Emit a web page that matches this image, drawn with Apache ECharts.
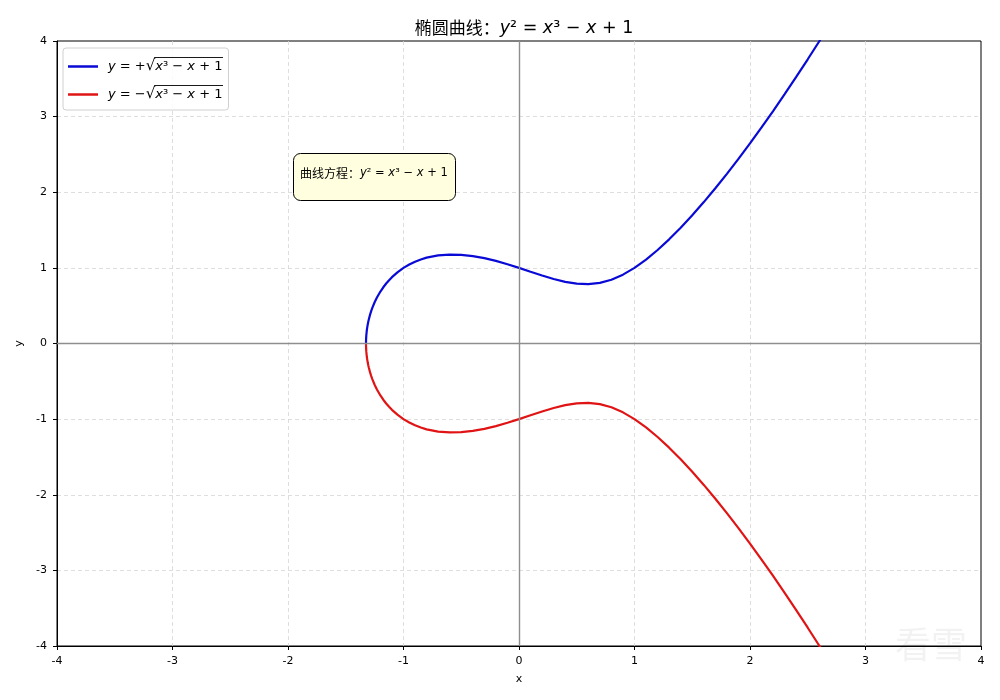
<!DOCTYPE html>
<html>
<head>
<meta charset="utf-8">
<script src="https://cdn.jsdelivr.net/npm/echarts@6/dist/echarts.min.js"></script>
<style>html,body{margin:0;padding:0;background:#fff}#c{width:1000px;height:700px}</style>
</head>
<body>
<div id="c"></div>
<script>
// x samples along the curve
const xVals = [-1.3247,-1.324,-1.322,-1.318,-1.315,-1.31,-1.305,-1.3,-1.29,-1.28,-1.27,-1.25,-1.23,-1.2,-1.175,-1.15,-1.125,-1.1,-1.05,-1.0,-0.95,-0.9,-0.85,-0.8,-0.7,-0.6,-0.5,-0.4,-0.3,-0.2,-0.1,0,0.1,0.2,0.3,0.4,0.5,0.6,0.7,0.8,0.9,1.0,1.1,1.2,1.3,1.4,1.5,1.6,1.7,1.8,1.9,2.0,2.1,2.2,2.3,2.4,2.5,2.6,2.7];
// upper branch values
const yUpper = [0,0.0553,0.1075,0.1687,0.2027,0.2488,0.2873,0.3209,0.3786,0.4276,0.4708,0.5449,0.6076,0.6870,0.7435,0.7932,0.8374,0.8769,0.9447,1.0,1.0453,1.0821,1.1117,1.1349,1.1649,1.1764,1.1726,1.1559,1.1283,1.0918,1.0483,1.0,0.9492,0.8989,0.8526,0.8149,0.7906,0.7849,0.8019,0.8438,0.9105,1.0,1.1095,1.2361,1.3773,1.5310,1.6956,1.8698,2.0526,2.2432,2.4411,2.6458,2.8568,3.0737,3.2965,3.5248,3.7583,3.9970,4.2407];
// lower branch values
const yLower = [0,-0.0553,-0.1075,-0.1687,-0.2027,-0.2488,-0.2873,-0.3209,-0.3786,-0.4276,-0.4708,-0.5449,-0.6076,-0.6870,-0.7435,-0.7932,-0.8374,-0.8769,-0.9447,-1.0,-1.0453,-1.0821,-1.1117,-1.1349,-1.1649,-1.1764,-1.1726,-1.1559,-1.1283,-1.0918,-1.0483,-1.0,-0.9492,-0.8989,-0.8526,-0.8149,-0.7906,-0.7849,-0.8019,-0.8438,-0.9105,-1.0,-1.1095,-1.2361,-1.3773,-1.5310,-1.6956,-1.8698,-2.0526,-2.2432,-2.4411,-2.6458,-2.8568,-3.0737,-3.2965,-3.5248,-3.7583,-3.9970,-4.2407];
const axisMin = -4, axisMax = 4, axisStep = 1;
const seriesNames = ['upper', 'lower'];

const upperData = xVals.map((x, i) => [x, yUpper[i]]);
const lowerData = xVals.map((x, i) => [x, yLower[i]]);

const CN = '"Noto Sans CJK SC", "Noto Sans", sans-serif';
const MATH = '"DejaVu Sans", sans-serif';
const LEG_FS = 13, RAD_FS = 15;

// measure text for legend radical overlines
const mctx = document.createElement('canvas').getContext('2d');
function tw(txt, italic, fs) {
  mctx.font = (italic ? 'italic ' : '') + (fs || LEG_FS) + 'px "DejaVu Sans"';
  return mctx.measureText(txt).width;
}
const legLeft = 63, legTop = 48, legPadTop = 11, legGap = 13;
const legRowCenters = [66.5, 94.5];
const textStart = legLeft + 5 + 30 + 5 + 5;
const radEnd = textStart + tw('y', true) + tw(' = +', false) + tw('√', false, RAD_FS);
const olStart = radEnd - 1.2;
const olEnd = radEnd + tw('x', true) + tw('³ − ', false) + tw('x', true) + tw(' + 1', false) + 0.5;
const overlines = legRowCenters.map(cy => ({
  type: 'line', z: 20, silent: true,
  shape: {x1: olStart, y1: cy - 9, x2: olEnd, y2: cy - 9},
  style: {stroke: '#000', lineWidth: 0.9}
}));

const chart = echarts.init(document.getElementById('c'), null, {renderer: 'canvas'});
const axisCommon = {
  type: 'value', min: axisMin, max: axisMax, interval: axisStep,
  axisLine: {show: true, onZero: false, lineStyle: {color: '#000', width: 1}},
  axisTick: {show: true, inside: false, length: 4, lineStyle: {color: '#000'}},
  axisLabel: {color: '#000', fontSize: 11, fontFamily: '"DejaVu Sans", sans-serif', margin: 10},
  splitLine: {show: true, showMinLine: false, showMaxLine: false, lineStyle: {color: '#d6d6d6', type: [4, 3], width: 0.8}},
  nameTextStyle: {color: '#000', fontSize: 11, fontFamily: '"DejaVu Sans", sans-serif'}
};
chart.setOption({
  animation: false,
  backgroundColor: '#fff',
  title: {
    text: '{cn|椭圆曲线：}{m|y}{n|² = }{m|x}{n|³ − }{m|x}{n| + 1}',
    left: 519, top: 14, textAlign: 'center',
    textStyle: {
      fontWeight: 'normal',
      rich: {
        cn: {fontFamily: CN, fontSize: 17, fontWeight: 'normal', color: '#000'},
        m: {fontFamily: MATH, fontStyle: 'italic', fontWeight: 'normal', fontSize: 17.5, color: '#000'},
        n: {fontFamily: MATH, fontWeight: 'normal', fontSize: 17.5, color: '#000'}
      }
    }
  },
  grid: {left: 57, right: 19, top: 41, bottom: 54, show: true, borderColor: '#000', borderWidth: 1, backgroundColor: 'transparent'},
  xAxis: Object.assign({}, axisCommon, {name: 'x', nameLocation: 'middle', nameGap: 28, axisLabel: Object.assign({}, axisCommon.axisLabel, {margin: 10})}),
  yAxis: Object.assign({}, axisCommon, {name: 'y', nameLocation: 'middle', nameGap: 30, nameRotate: 90}),
  legend: {
    left: legLeft, top: legTop, orient: 'vertical',
    backgroundColor: 'rgba(255,255,255,0.85)', borderColor: '#d0d0d0', borderWidth: 1, borderRadius: 3,
    padding: [legPadTop, 6, 8, 5], itemGap: legGap, itemWidth: 30, itemHeight: 2.5, icon: 'rect',
    data: seriesNames,
    formatter: function (name) {
      const sign = name === 'upper' ? '+' : '−';
      return '{sp|}{m|y}{n| = ' + sign + '}{r|√}{m|x}{n|³ − }{m|x}{n| + 1}';
    },
    textStyle: {
      rich: {
        sp: {width: 5},
        m: {fontFamily: MATH, fontStyle: 'italic', fontSize: LEG_FS, color: '#000'},
        n: {fontFamily: MATH, fontSize: LEG_FS, color: '#000'},
        r: {fontFamily: MATH, fontSize: RAD_FS, color: '#000'}
      }
    }
  },
  series: [
    {
      name: 'upper', type: 'line', data: upperData, showSymbol: false, smooth: false, clip: true,
      lineStyle: {color: '#0a0ad6', width: 2.2}, itemStyle: {color: '#0a0ad6'},
      markLine: {
        silent: true, symbol: 'none', label: {show: false},
        lineStyle: {color: '#8e8e8e', type: 'solid', width: 1.4},
        data: [{xAxis: 0}, {yAxis: 0}]
      },
      z: 3
    },
    {
      name: 'lower', type: 'line', data: lowerData, showSymbol: false, smooth: false, clip: true,
      lineStyle: {color: '#e01414', width: 2.2}, itemStyle: {color: '#e01414'},
      z: 3
    }
  ],
  graphic: overlines.concat([
    {
      type: 'rect', left: 293, top: 153, z: 10,
      shape: {width: 162, height: 47, r: 7},
      style: {fill: '#ffffe0', stroke: '#000', lineWidth: 1}
    },
    {
      type: 'text', left: 300, top: 167, z: 11,
      style: {
        text: '{cn|曲线方程：}{m|y}{n|² = }{m|x}{n|³ − }{m|x}{n| + 1}',
        rich: {
          cn: {fontFamily: CN, fontSize: 12, fill: '#000'},
          m: {fontFamily: MATH, fontStyle: 'italic', fontSize: 11.5, fill: '#000'},
          n: {fontFamily: MATH, fontSize: 11.5, fill: '#000'}
        }
      }
    },
    {
      type: 'text', left: 895, top: 626, z: 1, silent: true,
      style: {text: '看雪', font: '36px "Noto Sans CJK SC"', fill: 'rgba(0,0,0,0.05)'}
    }
  ])
});
</script>
</body>
</html>
